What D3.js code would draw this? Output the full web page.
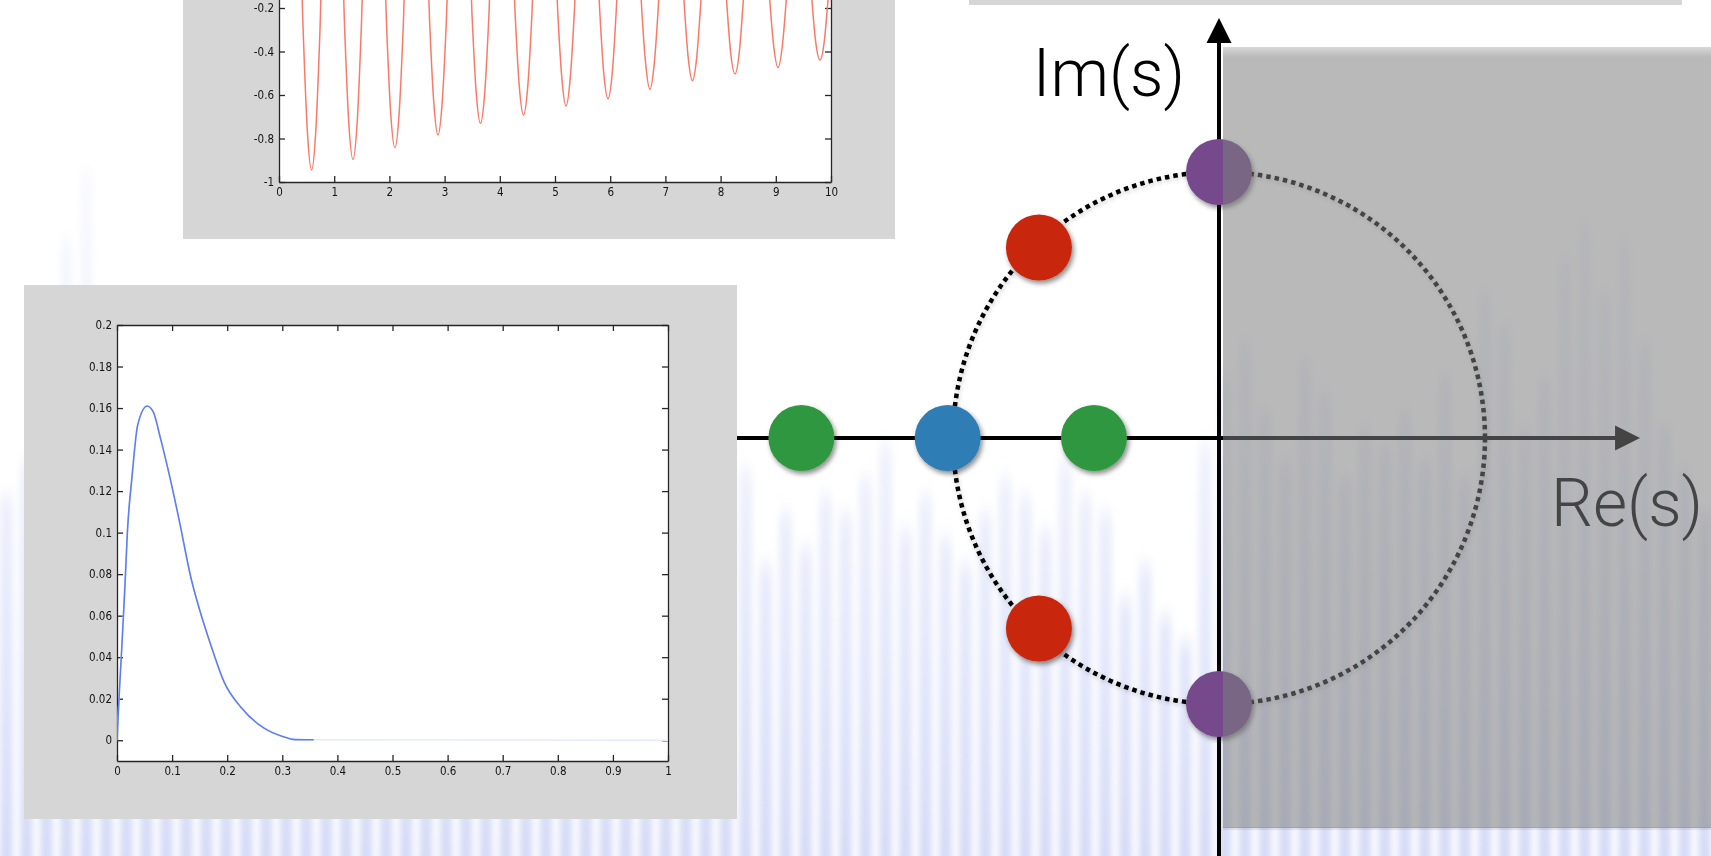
<!DOCTYPE html>
<html>
<head>
<meta charset="utf-8">
<title>s-plane poles</title>
<script src="https://d3js.org/d3.v7.min.js"></script>
<style>
  html, body { margin: 0; padding: 0; background: #fff; overflow: hidden; }
  svg { display: block; }
  .mat text { font-family: "DejaVu Sans Condensed", "Liberation Sans Narrow", "Liberation Sans", sans-serif; font-size: 11.5px; fill: #141414; font-stretch: condensed; }
  .mat .domain, .mat .tick line { stroke: #262626; stroke-width: 1.3px; }
  .axis-label { font-family: Roboto, "Open Sans", sans-serif; font-weight: 300; font-size: 66px; }
</style>
</head>
<body>
<svg width="1711" height="856"></svg>
<script>
  // oscillating response (top panel), t in s
  const ringTime = [0.00,
    0.39, 0.44, 0.51, 0.59, 0.67, 0.74, 0.79,
    1.14, 1.19, 1.26, 1.34, 1.42, 1.49, 1.54,
    1.90, 1.95, 2.02, 2.10, 2.18, 2.25, 2.30,
    2.68, 2.73, 2.80, 2.88, 2.96, 3.03, 3.08,
    3.45, 3.50, 3.57, 3.65, 3.73, 3.80, 3.85,
    4.23, 4.28, 4.35, 4.43, 4.51, 4.58, 4.63,
    5.00, 5.05, 5.12, 5.20, 5.28, 5.35, 5.40,
    5.76, 5.81, 5.88, 5.96, 6.04, 6.11, 6.16,
    6.52, 6.57, 6.64, 6.72, 6.80, 6.87, 6.92,
    7.29, 7.34, 7.41, 7.49, 7.57, 7.64, 7.69,
    8.06, 8.11, 8.18, 8.26, 8.34, 8.41, 8.46,
    8.84, 8.89, 8.96, 9.04, 9.12, 9.19, 9.24,
    9.60, 9.65, 9.72, 9.80, 9.88, 9.95, 10.0];
  const ringValue = [1.00,
    0.06, -0.32, -0.75, -0.945, -0.75, -0.32, 0.06,
    0.05, -0.30, -0.71, -0.896, -0.71, -0.30, 0.05,
    0.05, -0.29, -0.67, -0.842, -0.67, -0.29, 0.05,
    0.05, -0.27, -0.62, -0.784, -0.62, -0.27, 0.05,
    0.04, -0.25, -0.58, -0.730, -0.58, -0.25, 0.04,
    0.04, -0.24, -0.55, -0.692, -0.55, -0.24, 0.04,
    0.04, -0.22, -0.51, -0.651, -0.51, -0.22, 0.04,
    0.04, -0.21, -0.49, -0.617, -0.49, -0.21, 0.04,
    0.03, -0.20, -0.45, -0.574, -0.45, -0.20, 0.03,
    0.03, -0.18, -0.42, -0.534, -0.42, -0.18, 0.03,
    0.03, -0.17, -0.40, -0.503, -0.40, -0.17, 0.03,
    0.03, -0.16, -0.37, -0.474, -0.37, -0.16, 0.03,
    0.03, -0.15, -0.35, -0.439, -0.35, -0.15, 0.00];
  const ringXTicks = [0, 1, 2, 3, 4, 5, 6, 7, 8, 9, 10];
  const ringYTicks = [-1, -0.8, -0.6, -0.4, -0.2, 0];

  // overdamped pulse response (bottom-left panel)
  const pulseTime = [0, 0.004, 0.0085, 0.0145, 0.0188, 0.0273, 0.0377, 0.0548, 0.066, 0.0788, 0.096,
    0.113, 0.1344, 0.156, 0.173, 0.1945, 0.2245, 0.267, 0.3017, 0.323, 0.357, 1.0];
  const pulseValue = [0, 0.022, 0.0437, 0.0747, 0.1, 0.127, 0.152, 0.161, 0.158, 0.1455, 0.1266,
    0.1058, 0.078, 0.0575, 0.0437, 0.028, 0.016, 0.0058, 0.0017, 0.0003, 0.0002, 0];
  const pulseXTicks = [0, 0.1, 0.2, 0.3, 0.4, 0.5, 0.6, 0.7, 0.8, 0.9, 1];
  const pulseYTicks = [0, 0.02, 0.04, 0.06, 0.08, 0.1, 0.12, 0.14, 0.16, 0.18, 0.2];

  // poles in the s-plane, in units of the natural frequency
  const poleRe = [0, 0, -0.677, -0.677, -1.02, -1.57, -0.47];
  const poleIm = [1, -1, 0.716, -0.716, 0, 0, 0];
  const poleKind = ["undamped", "undamped", "under", "under", "critical", "over", "over"];

  // washed-out histogram in the backdrop (height as share of page)
  const bgLevel = [0.42, 0.46, 0.4, 0.72, 0.8, 0.5, 0.38, 0.44, 0.52, 0.45,
    0.5, 0.55, 0.44, 0.6, 0.46, 0.4, 0.5, 0.56, 0.38, 0.46,
    0.5, 0.4, 0.58, 0.44, 0.36, 0.48, 0.52, 0.42, 0.46, 0.38,
    0.42, 0.46, 0.48, 0.4, 0.32, 0.36, 0.42, 0.45, 0.34, 0.4,
    0.36, 0.42, 0.4, 0.44, 0.48, 0.38, 0.42, 0.37, 0.34, 0.4,
    0.44, 0.42, 0.38, 0.46, 0.42, 0.4, 0.3, 0.34, 0.28, 0.25,
    0.48, 0.56, 0.6, 0.52, 0.46, 0.58, 0.54, 0.44, 0.5, 0.48,
    0.52, 0.46, 0.56, 0.44, 0.66, 0.62, 0.5, 0.56, 0.7, 0.74,
    0.66, 0.72, 0.6, 0.5, 0.45, 0.4];

  const kindColor = { undamped: "#74498c", under: "#c8270a", critical: "#2f7db4", over: "#2f9741" };

  const W = 1711, H = 856;
  const svg = d3.select("svg");
  const defs = svg.append("defs");

  const shadow = defs.append("filter").attr("id", "shadow")
    .attr("x", "-40%").attr("y", "-40%").attr("width", "180%").attr("height", "180%");
  shadow.append("feDropShadow").attr("dx", 2).attr("dy", 3).attr("stdDeviation", 2.5)
    .attr("flood-color", "#000").attr("flood-opacity", 0.45);

  const lineShadow = defs.append("filter").attr("id", "lineShadow")
    .attr("x", "-10%").attr("y", "-10%").attr("width", "120%").attr("height", "120%");
  lineShadow.append("feDropShadow").attr("dx", 1).attr("dy", 2).attr("stdDeviation", 2)
    .attr("flood-color", "#000").attr("flood-opacity", 0.2);

  defs.append("filter").attr("id", "soft")
    .append("feGaussianBlur").attr("stdDeviation", 0.45);

  defs.append("filter").attr("id", "haze").attr("x", "-30%").attr("y", "-10%").attr("width", "160%").attr("height", "120%")
    .append("feGaussianBlur").attr("stdDeviation", "3 10");

  const fade = defs.append("linearGradient").attr("id", "bgfade")
    .attr("gradientUnits", "userSpaceOnUse").attr("x1", 0).attr("y1", 0).attr("x2", 0).attr("y2", H);
  fade.append("stop").attr("offset", 0).attr("stop-color", "#e8ebfa").attr("stop-opacity", 0.05);
  fade.append("stop").attr("offset", 0.5).attr("stop-color", "#e0e4f9").attr("stop-opacity", 0.45);
  fade.append("stop").attr("offset", 1).attr("stop-color", "#d6dbf7").attr("stop-opacity", 1);

  const rim = defs.append("linearGradient").attr("id", "rim").attr("x1", 0).attr("y1", 0).attr("x2", 0).attr("y2", 1);
  rim.append("stop").attr("offset", 0).attr("stop-color", "#fff").attr("stop-opacity", 0.45);
  rim.append("stop").attr("offset", 1).attr("stop-color", "#fff").attr("stop-opacity", 0);

  // backdrop
  svg.append("rect").attr("width", W).attr("height", H).attr("fill", "#fff");
  const xb = d3.scaleBand().domain(d3.range(bgLevel.length)).range([0, W]).paddingInner(0.35);
  svg.append("g").attr("filter", "url(#haze)")
    .selectAll("rect").data(bgLevel).join("rect")
    .attr("x", (d, i) => xb(i)).attr("width", xb.bandwidth())
    .attr("y", d => H * (1 - d)).attr("height", d => H * d + 40)
    .attr("fill", "url(#bgfade)");

  // s-plane
  const sx = d3.scaleLinear().domain([-1, 1]).range([953, 1485]);
  const sy = d3.scaleLinear().domain([-1, 1]).range([704, 172]);
  const plane = svg.append("g");
  const ox = sx(0), oy = sy(0);
  const reEnd = sx(1.583), imEnd = sy(1.579);

  plane.append("line").attr("x1", 720).attr("x2", reEnd - 20).attr("y1", oy).attr("y2", oy)
    .attr("stroke", "#000").attr("stroke-width", 4);
  plane.append("path").attr("d", `M${reEnd},${oy}L${reEnd - 25},${oy - 12.5}L${reEnd - 25},${oy + 12.5}Z`).attr("fill", "#000");
  plane.append("line").attr("x1", ox).attr("x2", ox).attr("y1", H + 5).attr("y2", imEnd + 20)
    .attr("stroke", "#000").attr("stroke-width", 4);
  plane.append("path").attr("d", `M${ox},${imEnd}L${ox - 12.5},${imEnd + 25}L${ox + 12.5},${imEnd + 25}Z`).attr("fill", "#000");

  plane.append("circle").attr("cx", ox).attr("cy", oy).attr("r", sx(1) - sx(0))
    .attr("fill", "none").attr("stroke", "#000").attr("stroke-width", 4.5)
    .attr("stroke-dasharray", "4.5 4").attr("filter", "url(#lineShadow)");

  plane.selectAll("circle.pole").data(poleRe).join("circle").attr("class", "pole")
    .attr("cx", d => sx(d)).attr("cy", (d, i) => sy(poleIm[i])).attr("r", 33)
    .attr("fill", (d, i) => kindColor[poleKind[i]]).attr("filter", "url(#shadow)");

  plane.append("text").attr("class", "axis-label").attr("x", 1185).attr("y", 96)
    .attr("text-anchor", "end").attr("fill", "#000").text("Im(s)");
  plane.append("text").attr("class", "axis-label").attr("x", 1551).attr("y", 526)
    .attr("fill", "#000").text("Re(s)");

  // unstable half-plane veil
  svg.append("rect").attr("x", 1223).attr("y", 47).attr("width", W - 1223 + 10).attr("height", 781)
    .attr("fill", "#7d7d7d").attr("fill-opacity", 0.54);
  svg.append("rect").attr("x", 1223).attr("y", 47).attr("width", W - 1223 + 10).attr("height", 10)
    .attr("fill", "url(#rim)");
  svg.append("rect").attr("x", 1223).attr("y", 827).attr("width", W - 1223 + 10).attr("height", 3)
    .attr("fill", "#000").attr("opacity", 0.08);

  // piece of a panel at the top right
  svg.append("rect").attr("x", 969).attr("y", -5).attr("width", 713).attr("height", 10).attr("fill", "#d6d6d6");

  function panel(o) {
    const g = svg.append("g").attr("class", "mat");
    g.append("rect").attr("x", o.gx).attr("y", o.gy).attr("width", o.gw).attr("height", o.gh).attr("fill", "#d6d6d6");
    const x = d3.scaleLinear().domain(o.xDomain).range([o.left, o.right]);
    const y = d3.scaleLinear().domain(o.yDomain).range([o.bottom, o.top]);
    const inner = g.append("g").attr("filter", "url(#soft)");
    inner.append("rect").attr("x", o.left).attr("y", o.top).attr("width", o.right - o.left)
      .attr("height", o.bottom - o.top).attr("fill", "#fff");
    const id = "clip" + o.gx;
    defs.append("clipPath").attr("id", id).append("rect")
      .attr("x", o.left).attr("y", o.top).attr("width", o.right - o.left).attr("height", o.bottom - o.top);
    const fmt = d => String(d);
    inner.append("g").attr("transform", `translate(0,${o.bottom})`)
      .call(d3.axisBottom(x).tickValues(o.xTicks).tickFormat(fmt).tickSize(-6).tickSizeOuter(0).tickPadding(6));
    inner.append("g").attr("transform", `translate(0,${o.top})`)
      .call(d3.axisTop(x).tickValues(o.xTicks).tickFormat("").tickSize(-6).tickSizeOuter(0));
    inner.append("g").attr("transform", `translate(${o.left},0)`)
      .call(d3.axisLeft(y).tickValues(o.yTicks).tickFormat(fmt).tickSize(-6).tickSizeOuter(0).tickPadding(5));
    inner.append("g").attr("transform", `translate(${o.right},0)`)
      .call(d3.axisRight(y).tickValues(o.yTicks).tickFormat("").tickSize(-6).tickSizeOuter(0));
    const plot = inner.append("g").attr("clip-path", `url(#${id})`);
    return { x, y, plot };
  }

  // top panel: ringing response
  const ringPanel = panel({ gx: 183, gy: -10, gw: 712, gh: 249, left: 279, right: 831, top: -253, bottom: 182,
    xDomain: [0, 10], yDomain: [-1, 1], xTicks: ringXTicks, yTicks: ringYTicks });
  const ringLine = d3.line().x(d => ringPanel.x(d[0])).y(d => ringPanel.y(d[1])).curve(d3.curveMonotoneX);
  ringPanel.plot.append("path").datum(ringTime.map((t, i) => [t, ringValue[i]]))
    .attr("d", ringLine).attr("fill", "none").attr("stroke", "#f87a68").attr("stroke-width", 1.5);

  // bottom-left panel: pulse response
  const pulsePanel = panel({ gx: 24, gy: 285, gw: 713, gh: 534, left: 117, right: 668, top: 325, bottom: 761,
    xDomain: [0, 1], yDomain: [-0.01, 0.2], xTicks: pulseXTicks, yTicks: pulseYTicks });
  const pulse = pulseTime.map((t, i) => [t, pulseValue[i]]);
  const pulseLine = d3.line().x(d => pulsePanel.x(d[0])).y(d => pulsePanel.y(d[1])).curve(d3.curveMonotoneX);
  pulsePanel.plot.append("path").datum(pulse).attr("d", pulseLine)
    .attr("fill", "none").attr("stroke", "#e6eaf8").attr("stroke-width", 1.5);
  pulsePanel.plot.append("path").datum(pulse.filter(d => d[0] < 0.5)).attr("d", pulseLine)
    .attr("fill", "none").attr("stroke", "#5b7ef2").attr("stroke-width", 1.6);
</script>
</body>
</html>
